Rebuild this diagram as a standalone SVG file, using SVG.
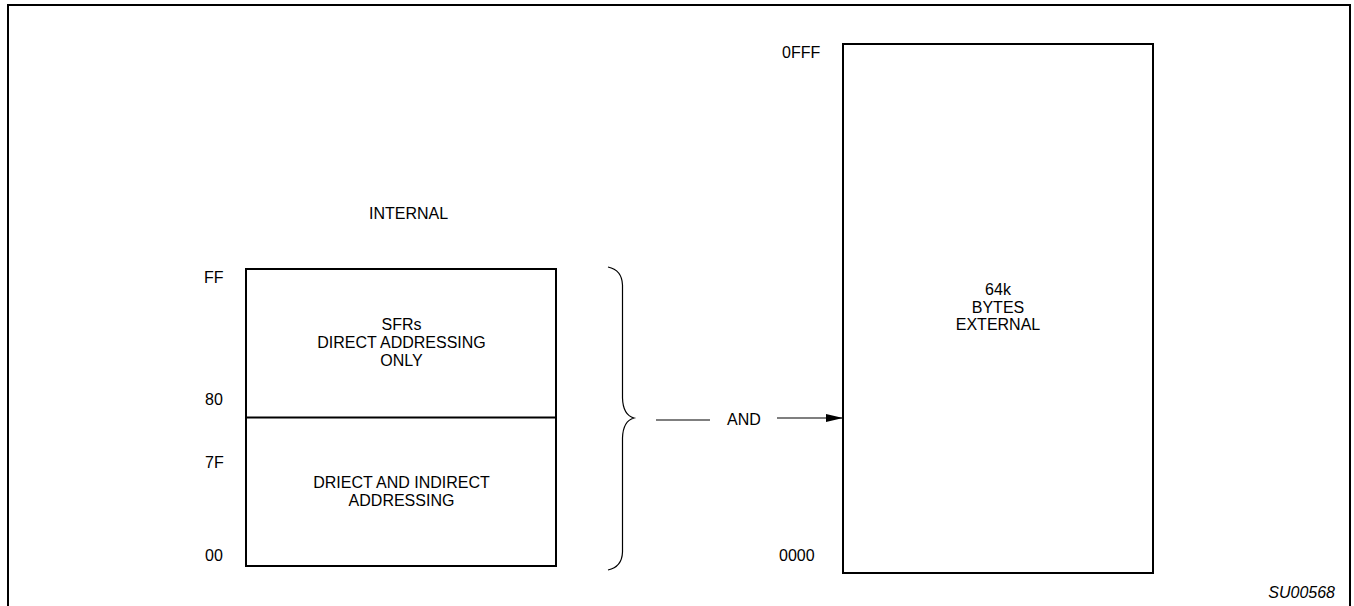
<svg xmlns="http://www.w3.org/2000/svg" width="1354" height="606" viewBox="0 0 1354 606">
<defs>
<style>
.t{font-family:"Liberation Sans",Arial,sans-serif;font-size:16px;fill:#000}
.c{text-anchor:middle}
.box{fill:#fff;stroke:#000;stroke-width:2}
.ln{fill:none;stroke:#000;stroke-width:1.2}
</style>
<marker id="ah" viewBox="0 0 10 10" refX="10" refY="5" markerWidth="17" markerHeight="8" markerUnits="userSpaceOnUse" orient="auto" preserveAspectRatio="none">
<path d="M0,0 L10,5 L0,10 Z" fill="#000"/>
</marker>
</defs>
<rect x="0" y="0" width="1354" height="606" fill="#fff"/>
<rect x="8" y="5" width="1342" height="610" fill="none" stroke="#000" stroke-width="2"/>
<text class="t c" x="408.5" y="219">INTERNAL</text>
<g id="internal">
<rect class="box" x="246" y="269" width="310" height="297"/>
<line x1="246" y1="417.5" x2="556" y2="417.5" stroke="#000" stroke-width="2"/>
<text class="t" x="204" y="283">FF</text>
<text class="t" x="205" y="405">80</text>
<text class="t" x="205" y="468">7F</text>
<text class="t" x="205" y="561">00</text>
</g>
<g id="sfr">
<text class="t c" x="401.5" y="330">SFRs</text>
<text class="t c" x="401.5" y="348">DIRECT ADDRESSING</text>
<text class="t c" x="401.5" y="366">ONLY</text>
</g>
<g id="lower">
<text class="t c" x="401.5" y="488">DRIECT AND INDIRECT</text>
<text class="t c" x="401.5" y="506">ADDRESSING</text>
</g>
<g id="external">
<rect class="box" x="843" y="44" width="310" height="529"/>
<text class="t" x="782" y="58">0FFF</text>
<text class="t" x="779" y="561">0000</text>
<text class="t c" x="998" y="295">64k</text>
<text class="t c" x="998" y="313">BYTES</text>
<text class="t c" x="998" y="330">EXTERNAL</text>
</g>
<g id="connectors">
<path class="ln" d="M608,267 Q622,270 622.5,285 L622.5,398 Q623,415 634,418 Q623,421 622.5,438 L622.5,552 Q622,567 608,570"/>
<line class="ln" x1="656" y1="420" x2="710" y2="420"/>
<text class="t" x="727" y="425">AND</text>
<line class="ln" x1="777" y1="418" x2="843" y2="418" marker-end="url(#ah)"/>
</g>
<text class="t" x="1335" y="598" text-anchor="end" font-style="italic" font-size="14.5">SU00568</text>
</svg>
